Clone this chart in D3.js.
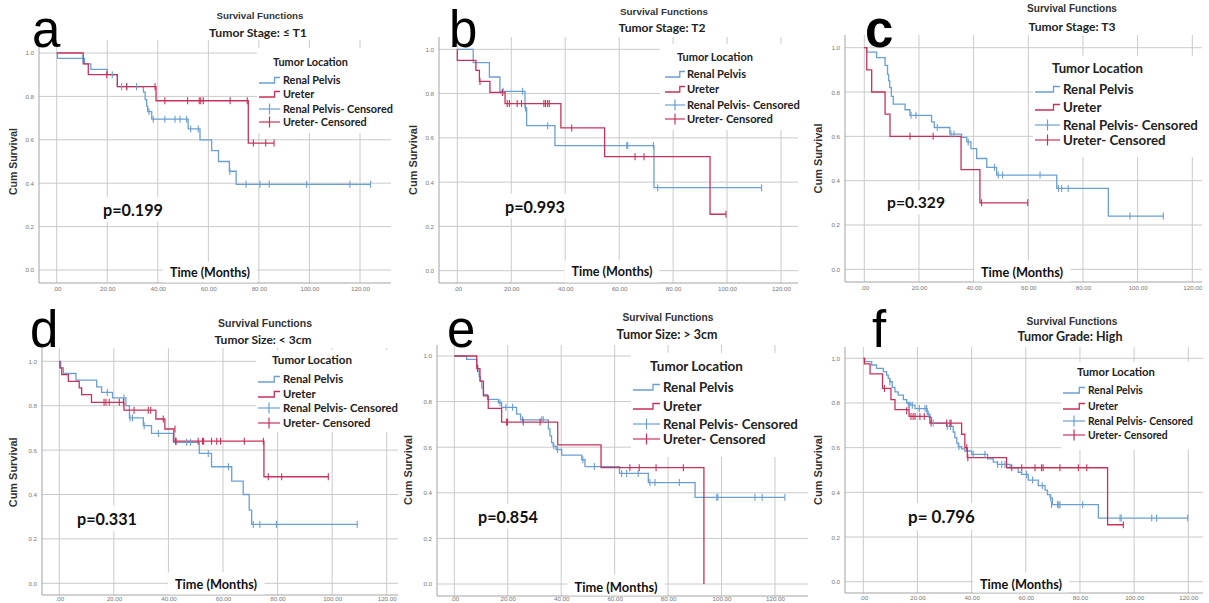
<!DOCTYPE html>
<html>
<head>
<meta charset="utf-8">
<script src="https://cdn.jsdelivr.net/npm/d3@7"></script>
<style>
body { margin: 0; background: #fff; }
svg { display: block; }
</style>
</head>
<body>
<script>
// Six Kaplan-Meier panels.
var timeTicks = [0, 20, 40, 60, 80, 100, 120];
var survTicks = [0, 0.2, 0.4, 0.6, 0.8, 1.0];
var panelLetters = ['a', 'b', 'c', 'd', 'e', 'f'];
var panelSubtitles = ['Tumor Stage: \u2264 T1', 'Tumor Stage: T2', 'Tumor Stage: T3',
	'Tumor Size: < 3cm', 'Tumor Size: > 3cm', 'Tumor Grade: High'];
var pLabels = ['p=0.199', 'p=0.993', 'p=0.329', 'p=0.331', 'p=0.854', 'p= 0.796'];
var legendNames = ['Renal Pelvis', 'Ureter', 'Renal Pelvis- Censored', 'Ureter- Censored'];

// [time, survival after that time]
var rpStepsA = [[0,1],[0.3,0.975],[11,0.95],[13.5,0.925],[20,0.90],[24,0.845],[34.3,0.82],[35,0.785],[35.6,0.755],[36,0.73],[37.6,0.695],[52,0.65],[56.7,0.60],[61.3,0.55],[64,0.50],[68.3,0.455],[71,0.395],[124.2,0.395]];
var rpCensA = [[10.3,0.975],[22,0.90],[25.7,0.845],[27.7,0.845],[31.6,0.845],[36.5,0.73],[38.2,0.695],[42.8,0.695],[46.8,0.695],[48.8,0.695],[51.4,0.695],[53,0.65],[56,0.65],[68.5,0.455],[74.9,0.395],[80.4,0.395],[84.1,0.395],[98.9,0.395],[116,0.395],[124.2,0.395]];
var urStepsA = [[0,1],[10.5,0.95],[12.5,0.90],[24,0.845],[39.3,0.78],[75.8,0.585],[86,0.585]];
var urCensA = [[19.8,0.90],[27.7,0.845],[38.9,0.845],[42.8,0.78],[51.8,0.78],[56.4,0.78],[57,0.78],[58,0.78],[68.6,0.78],[75.4,0.78],[77.8,0.585],[82.7,0.585],[86,0.585]];

var rpStepsB = [[0,1],[5.9,0.94],[11.9,0.875],[15.8,0.81],[25.1,0.735],[25.7,0.655],[36.2,0.565],[72.9,0.375],[112.8,0.375]];
var rpCensB = [[17,0.81],[24.2,0.81],[25.3,0.735],[33.5,0.655],[62.8,0.565],[63.2,0.565],[72.7,0.565],[74.3,0.375],[112.8,0.375]];
var urStepsB = [[0,1],[0,0.95],[6.9,0.905],[8.2,0.855],[12.1,0.805],[17.7,0.755],[38.4,0.645],[54.6,0.515],[93.7,0.255],[99.6,0.255]];
var urCensB = [[8.4,0.855],[16.7,0.805],[18.5,0.755],[19.3,0.755],[22.2,0.755],[23.8,0.755],[32.1,0.755],[32.7,0.755],[33.5,0.755],[34.1,0.755],[42.4,0.645],[65.9,0.515],[69.2,0.515],[99.6,0.255]];

var rpStepsC = [[0,1],[0.9,0.98],[4.5,0.955],[7.6,0.92],[8.5,0.88],[8.9,0.85],[9.3,0.82],[9.9,0.78],[10.6,0.745],[14.9,0.72],[16.7,0.695],[24.6,0.665],[25.6,0.64],[31.3,0.61],[35.6,0.595],[37.5,0.575],[39,0.545],[41.1,0.50],[44.8,0.46],[48.4,0.425],[70.4,0.365],[89.3,0.24],[109.4,0.24]];
var rpCensC = [[17.1,0.695],[18.9,0.695],[26.7,0.64],[31.7,0.61],[32.8,0.61],[38,0.575],[47.6,0.46],[49,0.425],[50.6,0.425],[64.3,0.425],[71,0.365],[72.2,0.365],[74.6,0.365],[97.2,0.24],[109.4,0.24]];
var urStepsC = [[0,1],[0.9,0.90],[2.7,0.80],[7.6,0.70],[9.4,0.60],[35.4,0.45],[42.3,0.30],[59.8,0.30]];
var urCensC = [[16.7,0.60],[25.2,0.60],[42.9,0.30],[59.8,0.30]];

var rpStepsD = [[0,1],[0.5,0.97],[1.5,0.945],[6.1,0.915],[13.7,0.885],[15.5,0.86],[19.5,0.835],[24.4,0.80],[25.7,0.745],[30.8,0.71],[33.8,0.675],[41.8,0.635],[51.3,0.585],[55.8,0.525],[63.2,0.46],[67.4,0.40],[69.6,0.33],[70.5,0.265],[109.2,0.265]];
var rpCensD = [[17.6,0.86],[23.7,0.835],[25.9,0.745],[26.8,0.745],[31.1,0.71],[36.3,0.675],[46.7,0.635],[48.1,0.635],[54.6,0.585],[62,0.525],[71.1,0.265],[73.5,0.265],[79.6,0.265],[109.2,0.265]];
var urStepsD = [[0,1],[0.2,0.97],[0.9,0.94],[3.3,0.91],[7.3,0.88],[8.2,0.85],[11.8,0.815],[23.7,0.78],[35.4,0.74],[38.7,0.695],[42,0.64],[75,0.48],[98.6,0.48]];
var urCensD = [[16.4,0.815],[17.1,0.815],[18.3,0.815],[22,0.815],[23.5,0.815],[27.4,0.78],[32.6,0.78],[33.5,0.78],[38.1,0.74],[42.4,0.695],[42.6,0.64],[42.8,0.64],[50.9,0.64],[52.5,0.64],[52.9,0.64],[55.8,0.64],[57.7,0.64],[59.1,0.64],[67.8,0.64],[74.8,0.64],[76.6,0.48],[81.5,0.48],[98.6,0.48]];

var rpStepsE = [[0,1],[4.6,0.985],[8.4,0.96],[8.8,0.935],[9.3,0.91],[9.8,0.89],[10.3,0.86],[10.9,0.83],[12.4,0.81],[16.5,0.795],[17.7,0.775],[23.3,0.745],[24.8,0.72],[35.2,0.68],[35.8,0.65],[36.4,0.62],[37,0.605],[38.1,0.59],[40.2,0.565],[47.7,0.545],[48.9,0.515],[61.8,0.485],[72.6,0.445],[90.1,0.38],[123.7,0.38]];
var rpCensE = [[17.1,0.795],[19.3,0.775],[21.8,0.775],[25.5,0.72],[32.7,0.72],[33.3,0.72],[37.2,0.605],[38.6,0.59],[48.1,0.545],[52.4,0.515],[62.6,0.485],[64.5,0.485],[68.8,0.485],[73.2,0.445],[75.1,0.445],[84.2,0.445],[98.2,0.38],[98.6,0.38],[112.5,0.38],[115.2,0.38],[123.7,0.38]];
var urStepsE = [[0,1],[8.4,0.945],[9.6,0.89],[10.9,0.825],[12.7,0.77],[17.7,0.71],[38.7,0.61],[54.9,0.51],[93.4,0]];
var urCensE = [[8.7,0.945],[19.6,0.71],[19.9,0.71],[25.8,0.71],[32.1,0.71],[65.7,0.51],[69.2,0.51],[75.5,0.51],[85.7,0.51]];

var rpStepsF = [[0,1],[0.6,0.985],[3.1,0.97],[4.9,0.955],[7.4,0.94],[8.6,0.925],[9.2,0.91],[9.8,0.895],[10.7,0.87],[11.7,0.85],[12.9,0.835],[14.8,0.815],[16,0.80],[17.5,0.79],[19.1,0.775],[23.6,0.75],[24.6,0.735],[25.2,0.71],[30.8,0.695],[33.2,0.67],[33.8,0.645],[34.5,0.62],[35.1,0.605],[36.3,0.595],[37.5,0.585],[40,0.57],[45.9,0.55],[48,0.535],[49.5,0.525],[54.2,0.51],[57.2,0.49],[58.5,0.48],[60.9,0.455],[64.6,0.43],[67.1,0.41],[68,0.39],[69,0.375],[69.8,0.345],[86.8,0.285],[119.8,0.285]];
var rpCensF = [[9.8,0.895],[16.6,0.79],[17,0.79],[18.1,0.79],[20.7,0.775],[22.8,0.775],[23.4,0.775],[24,0.75],[25.8,0.71],[31,0.695],[32.2,0.695],[35.3,0.605],[40.6,0.57],[44.9,0.57],[49.6,0.525],[51.1,0.525],[52.3,0.525],[60.3,0.48],[62.5,0.455],[66.1,0.43],[69.2,0.375],[69.5,0.345],[71.7,0.345],[72.2,0.345],[72.6,0.345],[81,0.345],[94.8,0.285],[95.2,0.285],[106.5,0.285],[108.3,0.285],[119.8,0.285]];
var urStepsF = [[0,1],[0.4,0.975],[2.5,0.93],[7.1,0.865],[10.2,0.815],[11.7,0.77],[16.9,0.74],[24.6,0.71],[36.3,0.66],[37.5,0.60],[38.4,0.555],[52.9,0.51],[90.2,0.255],[96,0.255]];
var urCensF = [[7.8,0.865],[16,0.765],[17.6,0.74],[18.4,0.74],[19.1,0.74],[20.9,0.74],[22.5,0.74],[25,0.71],[30.8,0.71],[32,0.71],[32.4,0.71],[38.2,0.60],[38.6,0.555],[54.8,0.51],[58.5,0.51],[63.4,0.51],[65.8,0.51],[66.4,0.51],[72.6,0.51],[79.4,0.51],[82.5,0.51],[96,0.255]];

var rpSteps = [rpStepsA, rpStepsB, rpStepsC, rpStepsD, rpStepsE, rpStepsF];
var rpCens = [rpCensA, rpCensB, rpCensC, rpCensD, rpCensE, rpCensF];
var urSteps = [urStepsA, urStepsB, urStepsC, urStepsD, urStepsE, urStepsF];
var urCens = [urCensA, urCensB, urCensC, urCensD, urCensE, urCensF];

var blue = '#6b9fd1', red = '#c8325a';
var gridColor = '#cacaca', axisColor = '#a3a3a3';
var boldFont = 'Lato, "Open Sans", sans-serif';
var plainFont = '"Liberation Sans", Arial, sans-serif';

// Pixel layout of each panel, measured on the picture.
var layout = [
	{left: 39, right: 391, top: 40, bottom: 283, x0: 56.7, x120: 360, y0: 270, y1: 53, tickPad: 4,
	 letter: {x: 32, y: 47}, title: {x: 260, y: 16, w: 87}, sub: {x: 258, y: 33, w: 98},
	 leg: {x: 273, y: 62, w: 75, tx: 283, rows: [80, 94, 109, 122], sx: 259, sw: 21, cw: 110, boxX: 257, boxT: 48, boxB: 133},
	 p: {x: 103, y: 210, w: 60}, time: {x: 210, y: 273, w: 80}, cum: {x: 13, w: 67}},
	{left: 439, right: 798, top: 37, bottom: 283, x0: 457.3, x120: 781, y0: 270.7, y1: 49.3, tickPad: 4,
	 letter: {x: 449, y: 47}, title: {x: 664, y: 12, w: 88}, sub: {x: 662, y: 28, w: 87},
	 leg: {x: 677, y: 57, w: 76, tx: 687, rows: [74, 89, 105, 119], sx: 665, sw: 20, cw: 113, boxX: 660, boxT: 44, boxB: 130},
	 p: {x: 505, y: 207, w: 60}, time: {x: 612, y: 272, w: 81}, cum: {x: 413, w: 70}},
	{left: 845, right: 1202, top: 35, bottom: 282, x0: 864.3, x120: 1192.3, y0: 269.3, y1: 47.7, tickPad: 4,
	 letter: {x: 865, y: 47, bold: true}, title: {x: 1072, y: 8, w: 90}, sub: {x: 1072, y: 27, w: 87},
	 leg: {x: 1052, y: 68, w: 91, tx: 1063, rows: [89, 107, 125, 140], sx: 1035, sw: 25, cw: 135, boxX: 1033, boxT: 56, boxB: 157},
	 p: {x: 887, y: 203, w: 58}, time: {x: 1022, y: 273, w: 82}, cum: {x: 818, w: 70}},
	{left: 42, right: 398, top: 348, bottom: 595, x0: 59.3, x120: 386.7, y0: 583.3, y1: 361.3, tickPad: 1.5,
	 letter: {x: 30, y: 347}, title: {x: 265, y: 323, w: 94}, sub: {x: 263, y: 340, w: 97},
	 leg: {x: 272, y: 360, w: 80, tx: 283, rows: [379, 394, 408, 423], sx: 258, sw: 22, cw: 115, boxX: 256, boxT: 350, boxB: 432},
	 p: {x: 77, y: 519, w: 60}, time: {x: 216, y: 585, w: 82}, cum: {x: 13, w: 70}},
	{left: 437, right: 808, top: 345, bottom: 596, x0: 454.3, x120: 775, y0: 584, y1: 356, tickPad: 1,
	 letter: {x: 447, y: 347}, title: {x: 668, y: 317, w: 91}, sub: {x: 667, y: 335, w: 101},
	 leg: {x: 650, y: 366, w: 93, tx: 663, rows: [387, 406, 424, 439], sx: 633, sw: 27, cw: 135, boxX: 631, boxT: 353, boxB: 457},
	 p: {x: 478, y: 517, w: 60}, time: {x: 616, y: 587, w: 83}, cum: {x: 408, w: 70}},
	{left: 845, right: 1203, top: 347, bottom: 593, x0: 863.3, x120: 1188.3, y0: 581.7, y1: 358.3, tickPad: 2.5,
	 letter: {x: 872, y: 347}, title: {x: 1072, y: 321, w: 91}, sub: {x: 1070, y: 337, w: 105},
	 leg: {x: 1077, y: 372, w: 78, tx: 1088, rows: [390, 406, 421, 435], sx: 1063, sw: 22, cw: 105, boxX: 1061, boxT: 362, boxB: 450},
	 p: {x: 908, y: 517, w: 67}, time: {x: 1021, y: 585, w: 82}, cum: {x: 818, w: 70}}
];

var svg = d3.select('body').append('svg')
	.attr('width', 1209)
	.attr('height', 603);

// Scale font size so the text is as wide as in the picture.
function fitText(sel, width) {
	var w = sel.node().getComputedTextLength();
	var fs = parseFloat(sel.attr('font-size'));
	if (w > 0) sel.attr('font-size', fs * width / w);
	return sel;
}

// White box behind a text, so grid lines are broken round it.
function boxBehind(g, sel, padX, padY, bottom) {
	var b = sel.node().getBBox();
	var y2 = bottom != null ? bottom : b.y + b.height + padY;
	g.insert('rect', function() { return sel.node(); })
		.attr('x', b.x - padX)
		.attr('y', b.y - padY)
		.attr('width', b.width + 2 * padX)
		.attr('height', y2 - (b.y - padY))
		.attr('fill', '#fff');
}

function drawPanel(i) {
	var L = layout[i];
	var g = svg.append('g').attr('class', 'panel-' + panelLetters[i]);
	var x = d3.scaleLinear().domain([0, 120]).range([L.x0, L.x120]);
	var y = d3.scaleLinear().domain([0, 1]).range([L.y0, L.y1]);

	// Grid.
	g.append('g').selectAll('line').data(survTicks).enter().append('line')
		.attr('x1', L.left).attr('x2', L.right)
		.attr('y1', function(d) { return y(d); }).attr('y2', function(d) { return y(d); })
		.attr('stroke', gridColor).attr('stroke-width', 1);
	g.append('g').selectAll('line').data(timeTicks).enter().append('line')
		.attr('x1', function(d) { return x(d); }).attr('x2', function(d) { return x(d); })
		.attr('y1', L.top).attr('y2', L.bottom)
		.attr('stroke', gridColor).attr('stroke-width', 1);

	// Tick labels through d3 axes.
	var yAxis = g.append('g')
		.attr('transform', 'translate(' + L.left + ',0)')
		.call(d3.axisLeft(y).tickValues(survTicks).tickSize(0).tickPadding(5)
			.tickFormat(d3.format('.1f')));
	var xAxis = g.append('g')
		.attr('transform', 'translate(0,' + L.bottom + ')')
		.call(d3.axisBottom(x).tickValues(timeTicks).tickSize(0).tickPadding(L.tickPad)
			.tickFormat(function(d) { return d === 0 ? '.00' : d.toFixed(2); }));
	[yAxis, xAxis].forEach(function(a) {
		a.select('.domain').remove();
		a.selectAll('text').attr('font-family', plainFont).attr('font-size', 6.2).attr('fill', '#777');
	});

	// Axis lines.
	g.append('line').attr('x1', L.left).attr('x2', L.left).attr('y1', L.top).attr('y2', L.bottom)
		.attr('stroke', axisColor);
	g.append('line').attr('x1', L.left).attr('x2', L.right).attr('y1', L.bottom).attr('y2', L.bottom)
		.attr('stroke', axisColor);

	// Legend background hides the grid.
	g.append('rect')
		.attr('x', L.leg.boxX).attr('y', L.leg.boxT)
		.attr('width', L.right - L.leg.boxX + 1).attr('height', L.leg.boxB - L.leg.boxT)
		.attr('fill', '#fff');

	// Curves.
	var line = d3.line()
		.x(function(d) { return x(d[0]); })
		.y(function(d) { return y(d[1]); })
		.curve(d3.curveStepAfter);
	[[rpSteps[i], blue], [urSteps[i], red]].forEach(function(s) {
		g.append('path').datum(s[0])
			.attr('d', line)
			.attr('fill', 'none')
			.attr('stroke', s[1])
			.attr('stroke-width', 1.3);
	});
	[[rpCens[i], blue], [urCens[i], red]].forEach(function(s) {
		g.append('g').selectAll('line').data(s[0]).enter().append('line')
			.attr('x1', function(d) { return x(d[0]); }).attr('x2', function(d) { return x(d[0]); })
			.attr('y1', function(d) { return y(d[1]) - 3.5; }).attr('y2', function(d) { return y(d[1]) + 3.5; })
			.attr('stroke', s[1]).attr('stroke-width', 1.1);
	});

	// Legend.
	var lg = g.append('g');
	fitText(lg.append('text')
		.attr('x', L.leg.x).attr('y', L.leg.y).attr('dy', '0.35em')
		.attr('font-family', boldFont).attr('font-weight', 700).attr('font-size', 12)
		.attr('fill', '#222').text('Tumor Location'), L.leg.w);
	var probe = lg.append('text').attr('font-family', boldFont).attr('font-weight', 700)
		.attr('font-size', 12).text(legendNames[2]);
	fitText(probe, L.leg.cw);
	var itemSize = probe.attr('font-size');
	probe.remove();
	legendNames.forEach(function(name, k) {
		var cy = L.leg.rows[k], sx = L.leg.sx, sw = L.leg.sw;
		var col = k % 2 === 0 ? blue : red;
		if (k < 2) {
			lg.append('path')
				.attr('d', 'M' + sx + ',' + (cy + 3) + 'H' + (sx + sw * 0.74) + 'V' + (cy - 2.5) + 'H' + (sx + sw))
				.attr('fill', 'none').attr('stroke', col).attr('stroke-width', 1.3);
		} else {
			lg.append('line').attr('x1', sx).attr('x2', sx + sw).attr('y1', cy).attr('y2', cy)
				.attr('stroke', col).attr('stroke-width', 1.2);
			lg.append('line').attr('x1', sx + sw / 2).attr('x2', sx + sw / 2).attr('y1', cy - 5.5).attr('y2', cy + 5.5)
				.attr('stroke', col).attr('stroke-width', 1.2);
		}
		lg.append('text')
			.attr('x', L.leg.tx).attr('y', cy).attr('dy', '0.35em')
			.attr('font-family', boldFont).attr('font-weight', 700).attr('font-size', itemSize)
			.attr('fill', '#222').text(name);
	});

	// Titles.
	fitText(g.append('text')
		.attr('x', L.title.x).attr('y', L.title.y).attr('dy', '0.35em').attr('text-anchor', 'middle')
		.attr('font-family', plainFont).attr('font-weight', 700).attr('font-size', 10)
		.attr('fill', '#333').text('Survival Functions'), L.title.w);
	fitText(g.append('text')
		.attr('x', L.sub.x).attr('y', L.sub.y).attr('dy', '0.35em').attr('text-anchor', 'middle')
		.attr('font-family', boldFont).attr('font-weight', 700).attr('font-size', 12)
		.attr('fill', '#222').text(panelSubtitles[i]), L.sub.w);

	// Axis titles.
	var cy = (L.y0 + L.y1) / 2;
	fitText(g.append('text')
		.attr('transform', 'translate(' + L.cum.x + ',' + cy + ') rotate(-90)')
		.attr('dy', '0.35em').attr('text-anchor', 'middle')
		.attr('font-family', plainFont).attr('font-weight', 700).attr('font-size', 10)
		.attr('fill', '#333').text('Cum Survival'), L.cum.w);

	var t = fitText(g.append('text')
		.attr('x', L.time.x).attr('y', L.time.y).attr('dy', '0.35em').attr('text-anchor', 'middle')
		.attr('font-family', boldFont).attr('font-weight', 700).attr('font-size', 14)
		.attr('fill', '#111').text('Time (Months)'), L.time.w);
	boxBehind(g, t, 7, 4, L.bottom - 0.6);

	var p = fitText(g.append('text')
		.attr('x', L.p.x).attr('y', L.p.y).attr('dy', '0.35em')
		.attr('font-family', boldFont).attr('font-weight', 700).attr('font-size', 18)
		.attr('fill', '#111').text(pLabels[i]), L.p.w);
	boxBehind(g, p, 5, 3);

	// Panel letter.
	g.append('text')
		.attr('x', L.letter.x).attr('y', L.letter.y)
		.attr('font-family', plainFont).attr('font-weight', L.letter.bold ? 700 : 400)
		.attr('font-size', 51).attr('fill', '#000')
		.text(panelLetters[i]);
}

for (var i = 0; i < layout.length; i++) drawPanel(i);
</script>
</body>
</html>
